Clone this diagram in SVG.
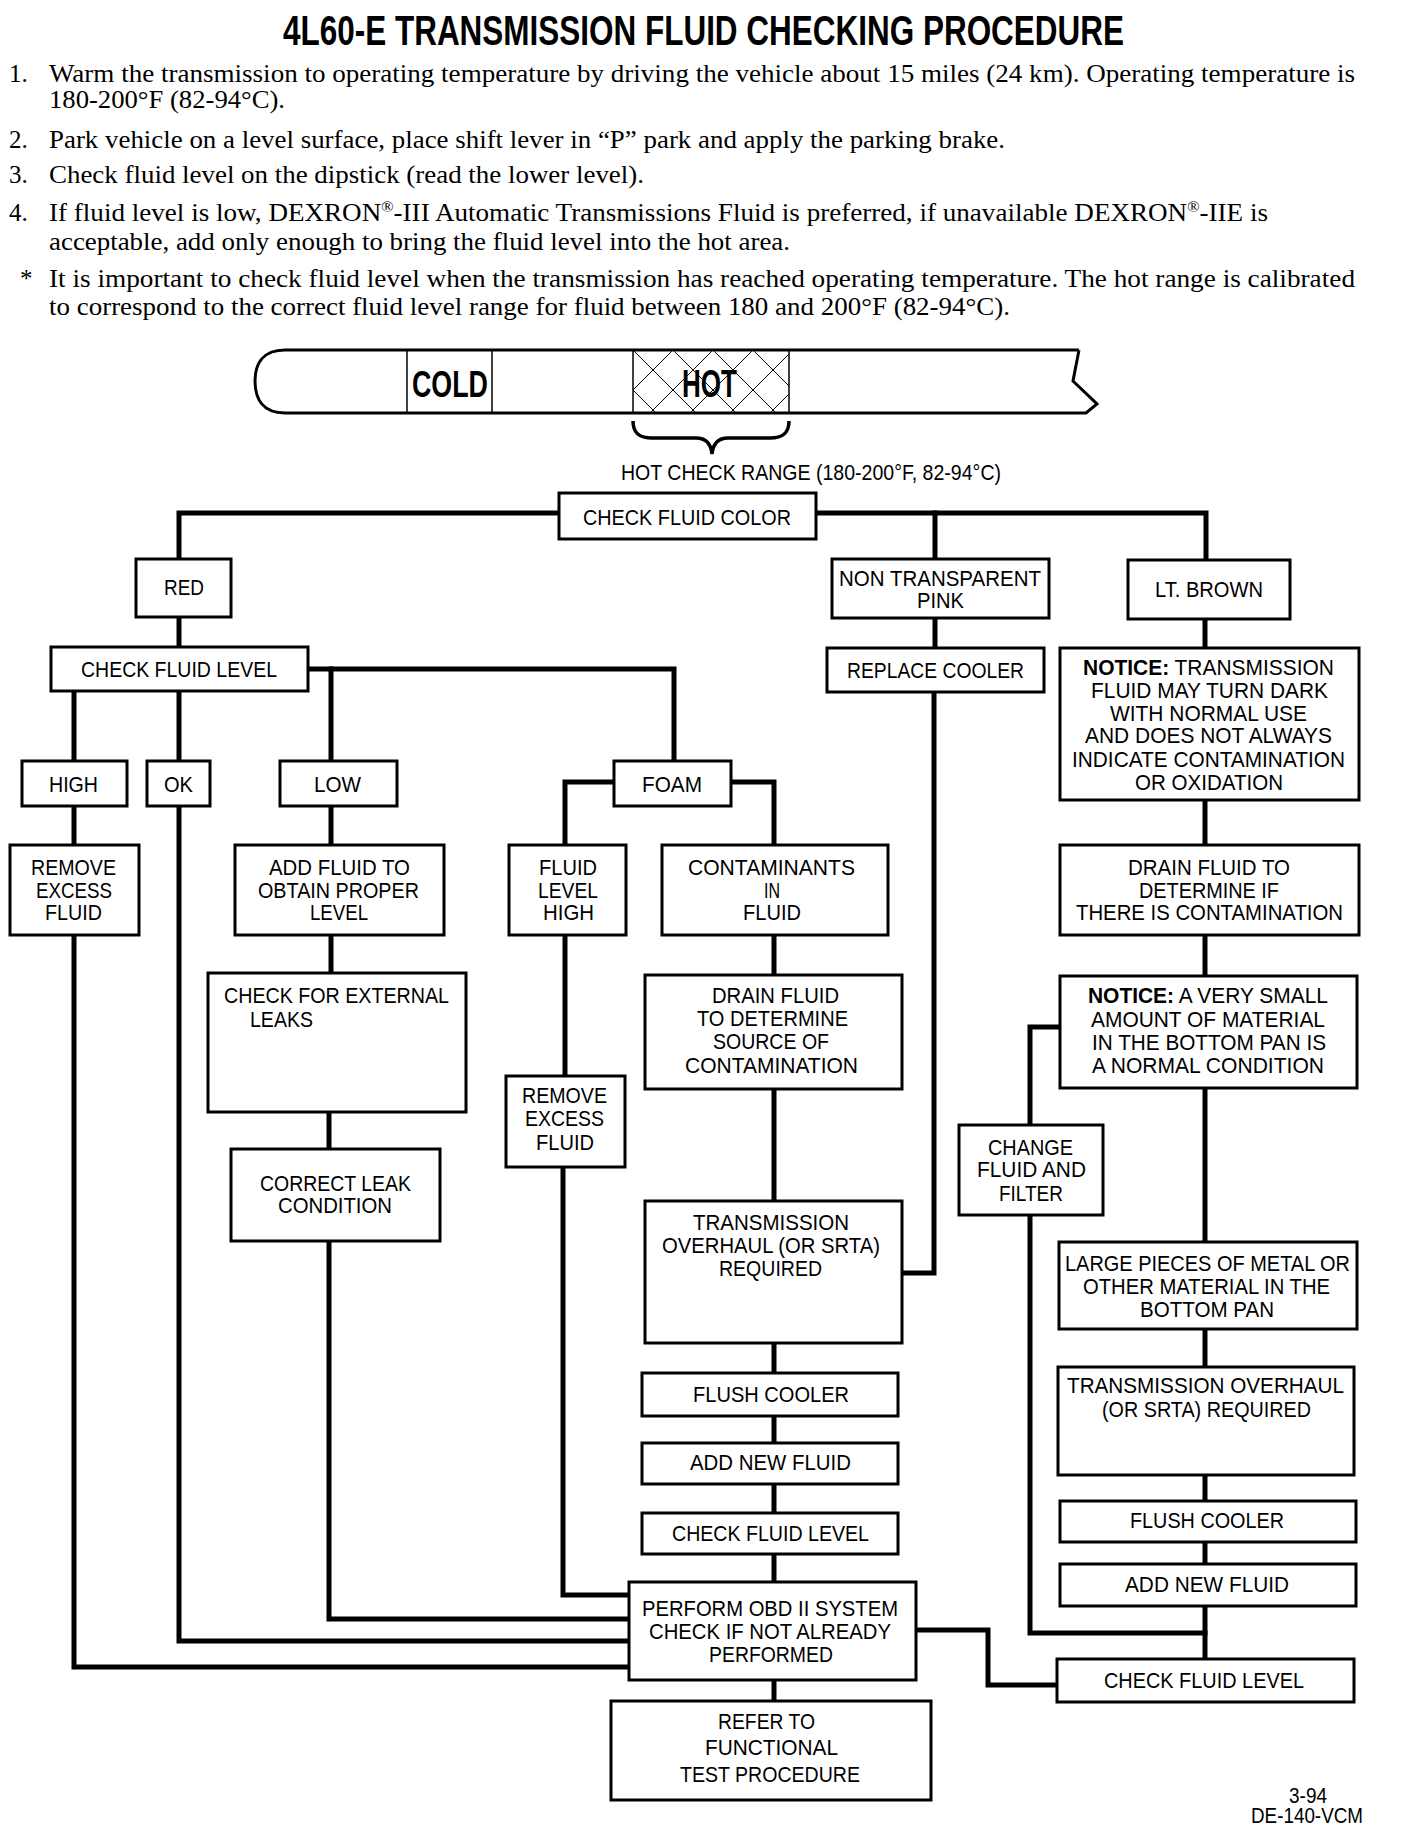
<svg xmlns="http://www.w3.org/2000/svg" width="1408" height="1830" viewBox="0 0 1408 1830">
<defs>
<style>
.box{fill:#fff;stroke:#000;stroke-width:3}
.c{fill:none;stroke:#000;stroke-width:5;stroke-linecap:square;stroke-linejoin:miter}
.t{font-family:"Liberation Sans",Arial,sans-serif;font-size:22px;fill:#000}
.b{font-family:"Liberation Serif","Times New Roman",serif;font-size:25px;fill:#000}
.h{font-family:"Liberation Sans",Arial,sans-serif;font-weight:bold;fill:#000}
.dip{fill:none;stroke:#000;stroke-width:3}
</style>
<pattern id="hatch" patternUnits="userSpaceOnUse" x="633" y="350" width="40" height="40">
<path d="M0 0 L40 40 M40 0 L0 40" stroke="#000" stroke-width="1" fill="none"/>
</pattern>
</defs>
<rect width="1408" height="1830" fill="#fff"/>

<g id="header">
<text class="h" x="283" y="45" font-size="42" textLength="841" lengthAdjust="spacingAndGlyphs">4L60-E TRANSMISSION FLUID CHECKING PROCEDURE</text>
<text class="b" x="9" y="82">1.</text>
<text class="b" x="49" y="82" textLength="1306" lengthAdjust="spacingAndGlyphs">Warm the transmission to operating temperature by driving the vehicle about 15 miles (24 km).  Operating temperature is</text>
<text class="b" x="49" y="108" textLength="236" lengthAdjust="spacingAndGlyphs">180-200°F (82-94°C).</text>
<text class="b" x="9" y="148">2.</text>
<text class="b" x="49" y="148" textLength="956" lengthAdjust="spacingAndGlyphs">Park vehicle on a level surface, place shift lever in “P” park and apply the parking brake.</text>
<text class="b" x="9" y="183">3.</text>
<text class="b" x="49" y="183" textLength="595" lengthAdjust="spacingAndGlyphs">Check fluid level on the dipstick (read the lower level).</text>
<text class="b" x="9" y="221">4.</text>
<text class="b" x="49" y="221" textLength="1219" lengthAdjust="spacingAndGlyphs">If fluid level is low, DEXRON<tspan dy="-9" font-size="15">®</tspan><tspan dy="9">-III Automatic Transmissions Fluid is preferred, if unavailable  DEXRON</tspan><tspan dy="-9" font-size="15">®</tspan><tspan dy="9">-IIE is</tspan></text>
<text class="b" x="49" y="250" textLength="741" lengthAdjust="spacingAndGlyphs">acceptable, add only enough to bring the fluid level into the hot area.</text>
<text class="b" x="20" y="287">*</text>
<text class="b" x="49" y="287" textLength="1306" lengthAdjust="spacingAndGlyphs">It is important to check fluid level when the transmission has reached operating temperature.  The hot range is calibrated</text>
<text class="b" x="49" y="315" textLength="961" lengthAdjust="spacingAndGlyphs">to correspond to the correct fluid level range for fluid between 180 and 200°F (82-94°C).</text>
</g>

<g id="dipstick">
<rect x="633" y="350" width="156" height="63" fill="url(#hatch)"/>
<path class="dip" d="M1079 350 L285 350 C262 350 255 365 255 381 C255 398 262 413 285 413 L1086 413 L1097 404 L1073 381 L1079 350"/>
<line x1="407" y1="350" x2="407" y2="413" stroke="#000" stroke-width="1.5"/>
<line x1="492" y1="350" x2="492" y2="413" stroke="#000" stroke-width="1.5"/>
<line x1="633" y1="350" x2="633" y2="413" stroke="#000" stroke-width="1.5"/>
<line x1="789" y1="350" x2="789" y2="413" stroke="#000" stroke-width="1.5"/>
<text class="h" x="412" y="397" font-size="36" textLength="76" lengthAdjust="spacingAndGlyphs">COLD</text>
<rect x="680" y="366" width="60" height="33" fill="#fff" opacity="0"/>
<text class="h" x="682" y="397" font-size="38" textLength="55" lengthAdjust="spacingAndGlyphs">HOT</text>
<path d="M633 421 C633 434 640 438 652 438 L696 438 C706 438 711 444 712 454 C713 444 718 438 728 438 L770 438 C782 438 789 434 789 421" fill="none" stroke="#000" stroke-width="3.5"/>
<text class="t" x="621" y="480" font-size="19" textLength="380" lengthAdjust="spacingAndGlyphs">HOT CHECK RANGE (180-200°F, 82-94°C)</text>
</g>

<g id="connectors">
<path class="c" d="M179 559 L179 513 L1206 513 L1206 560"/>
<path class="c" d="M935 513 L935 559"/>
<path class="c" d="M179 617 L179 647"/>
<path class="c" d="M74 691 L74 761"/>
<path class="c" d="M179 691 L179 761"/>
<path class="c" d="M308 669 L674 669 L674 761"/>
<path class="c" d="M331 669 L331 761"/>
<path class="c" d="M74 806 L74 845"/>
<path class="c" d="M331 806 L331 845"/>
<path class="c" d="M614 782 L565 782 L565 845"/>
<path class="c" d="M731 782 L774 782 L774 845"/>
<path class="c" d="M179 806 L179 1641 L629 1641"/>
<path class="c" d="M74 935 L74 1667 L629 1667"/>
<path class="c" d="M331 935 L331 973"/>
<path class="c" d="M329 1112 L329 1149"/>
<path class="c" d="M329 1241 L329 1619 L629 1619"/>
<path class="c" d="M565 935 L565 1076"/>
<path class="c" d="M563 1167 L563 1595 L629 1595"/>
<path class="c" d="M774 935 L774 1582"/>
<path class="c" d="M774 1680 L774 1701"/>
<path class="c" d="M935 618 L935 648"/>
<path class="c" d="M934 692 L934 1273 L902 1273"/>
<path class="c" d="M1205 619 L1205 1659"/>
<path class="c" d="M1060 1027 L1030 1027 L1030 1633 L1205 1633"/>
<path class="c" d="M916 1630 L988 1630 L988 1685 L1057 1685"/>
</g>

<g id="cfc"><rect class="box" x="559" y="493" width="257" height="46"/><text class="t" x="583" y="525" textLength="208" lengthAdjust="spacingAndGlyphs">CHECK FLUID COLOR</text></g>
<g id="red"><rect class="box" x="136" y="559" width="95" height="58"/><text class="t" x="164" y="595" textLength="40" lengthAdjust="spacingAndGlyphs">RED</text></g>
<g id="cfl1"><rect class="box" x="51" y="647" width="257" height="44"/><text class="t" x="81" y="677" textLength="196" lengthAdjust="spacingAndGlyphs">CHECK FLUID LEVEL</text></g>
<g id="high"><rect class="box" x="22" y="761" width="105" height="45"/><text class="t" x="49" y="792" textLength="49" lengthAdjust="spacingAndGlyphs">HIGH</text></g>
<g id="ok"><rect class="box" x="147" y="761" width="63" height="45"/><text class="t" x="164" y="792" textLength="29" lengthAdjust="spacingAndGlyphs">OK</text></g>
<g id="low"><rect class="box" x="280" y="761" width="117" height="45"/><text class="t" x="314" y="792" textLength="47" lengthAdjust="spacingAndGlyphs">LOW</text></g>
<g id="foam"><rect class="box" x="614" y="761" width="117" height="45"/><text class="t" x="642" y="792" textLength="60" lengthAdjust="spacingAndGlyphs">FOAM</text></g>
<g id="remove1"><rect class="box" x="10" y="845" width="129" height="90"/>
<text class="t" x="31" y="875" textLength="85" lengthAdjust="spacingAndGlyphs">REMOVE</text>
<text class="t" x="36" y="898" textLength="76" lengthAdjust="spacingAndGlyphs">EXCESS</text>
<text class="t" x="45" y="920" textLength="57" lengthAdjust="spacingAndGlyphs">FLUID</text></g>
<g id="addfluid"><rect class="box" x="235" y="845" width="209" height="90"/>
<text class="t" x="269" y="875" textLength="141" lengthAdjust="spacingAndGlyphs">ADD FLUID TO</text>
<text class="t" x="258" y="898" textLength="161" lengthAdjust="spacingAndGlyphs">OBTAIN PROPER</text>
<text class="t" x="310" y="920" textLength="58" lengthAdjust="spacingAndGlyphs">LEVEL</text></g>
<g id="flh"><rect class="box" x="509" y="845" width="117" height="90"/>
<text class="t" x="539" y="875" textLength="58" lengthAdjust="spacingAndGlyphs">FLUID</text>
<text class="t" x="538" y="898" textLength="60" lengthAdjust="spacingAndGlyphs">LEVEL</text>
<text class="t" x="543" y="920" textLength="51" lengthAdjust="spacingAndGlyphs">HIGH</text></g>
<g id="contam"><rect class="box" x="662" y="845" width="226" height="90"/>
<text class="t" x="688" y="875" textLength="167" lengthAdjust="spacingAndGlyphs">CONTAMINANTS</text>
<text class="t" x="764" y="898" textLength="16" lengthAdjust="spacingAndGlyphs">IN</text>
<text class="t" x="743" y="920" textLength="58" lengthAdjust="spacingAndGlyphs">FLUID</text></g>
<g id="ntp"><rect class="box" x="832" y="559" width="217" height="59"/>
<text class="t" x="839" y="586" textLength="202" lengthAdjust="spacingAndGlyphs">NON TRANSPARENT</text>
<text class="t" x="917" y="608" textLength="47" lengthAdjust="spacingAndGlyphs">PINK</text></g>
<g id="ltbrown"><rect class="box" x="1128" y="560" width="162" height="59"/><text class="t" x="1155" y="597" textLength="108" lengthAdjust="spacingAndGlyphs">LT. BROWN</text></g>
<g id="replace"><rect class="box" x="827" y="648" width="217" height="44"/><text class="t" x="847" y="678" textLength="177" lengthAdjust="spacingAndGlyphs">REPLACE COOLER</text></g>
<g id="notice1"><rect class="box" x="1060" y="648" width="299" height="152"/>
<text class="t" x="1083" y="675" textLength="251" lengthAdjust="spacingAndGlyphs"><tspan font-weight="bold">NOTICE:</tspan>  TRANSMISSION</text>
<text class="t" x="1091" y="698" textLength="237" lengthAdjust="spacingAndGlyphs">FLUID MAY TURN DARK</text>
<text class="t" x="1110" y="721" textLength="197" lengthAdjust="spacingAndGlyphs">WITH NORMAL USE</text>
<text class="t" x="1085" y="743" textLength="247" lengthAdjust="spacingAndGlyphs">AND DOES NOT ALWAYS</text>
<text class="t" x="1072" y="767" textLength="273" lengthAdjust="spacingAndGlyphs">INDICATE CONTAMINATION</text>
<text class="t" x="1135" y="790" textLength="148" lengthAdjust="spacingAndGlyphs">OR OXIDATION</text></g>
<g id="drainif"><rect class="box" x="1060" y="845" width="299" height="90"/>
<text class="t" x="1128" y="875" textLength="162" lengthAdjust="spacingAndGlyphs">DRAIN FLUID TO</text>
<text class="t" x="1139" y="898" textLength="140" lengthAdjust="spacingAndGlyphs">DETERMINE IF</text>
<text class="t" x="1076" y="920" textLength="267" lengthAdjust="spacingAndGlyphs">THERE IS CONTAMINATION</text></g>
<g id="checkext"><rect class="box" x="208" y="973" width="258" height="139"/>
<text class="t" x="224" y="1003" textLength="225" lengthAdjust="spacingAndGlyphs">CHECK FOR EXTERNAL</text>
<text class="t" x="250" y="1027" textLength="63" lengthAdjust="spacingAndGlyphs">LEAKS</text></g>
<g id="correct"><rect class="box" x="231" y="1149" width="209" height="92"/>
<text class="t" x="260" y="1191" textLength="151" lengthAdjust="spacingAndGlyphs">CORRECT LEAK</text>
<text class="t" x="278" y="1213" textLength="114" lengthAdjust="spacingAndGlyphs">CONDITION</text></g>
<g id="remove2"><rect class="box" x="506" y="1076" width="119" height="91"/>
<text class="t" x="522" y="1103" textLength="85" lengthAdjust="spacingAndGlyphs">REMOVE</text>
<text class="t" x="525" y="1126" textLength="79" lengthAdjust="spacingAndGlyphs">EXCESS</text>
<text class="t" x="536" y="1150" textLength="58" lengthAdjust="spacingAndGlyphs">FLUID</text></g>
<g id="drainsrc"><rect class="box" x="645" y="975" width="257" height="114"/>
<text class="t" x="712" y="1003" textLength="127" lengthAdjust="spacingAndGlyphs">DRAIN FLUID</text>
<text class="t" x="697" y="1026" textLength="151" lengthAdjust="spacingAndGlyphs">TO DETERMINE</text>
<text class="t" x="713" y="1049" textLength="116" lengthAdjust="spacingAndGlyphs">SOURCE OF</text>
<text class="t" x="685" y="1073" textLength="173" lengthAdjust="spacingAndGlyphs">CONTAMINATION</text></g>
<g id="overhaul1"><rect class="box" x="645" y="1201" width="257" height="142"/>
<text class="t" x="693" y="1230" textLength="156" lengthAdjust="spacingAndGlyphs">TRANSMISSION</text>
<text class="t" x="662" y="1253" textLength="218" lengthAdjust="spacingAndGlyphs">OVERHAUL (OR SRTA)</text>
<text class="t" x="719" y="1276" textLength="103" lengthAdjust="spacingAndGlyphs">REQUIRED</text></g>
<g id="notice2"><rect class="box" x="1060" y="976" width="297" height="112"/>
<text class="t" x="1088" y="1003" textLength="240" lengthAdjust="spacingAndGlyphs"><tspan font-weight="bold">NOTICE:</tspan>  A VERY SMALL</text>
<text class="t" x="1091" y="1027" textLength="234" lengthAdjust="spacingAndGlyphs">AMOUNT OF MATERIAL</text>
<text class="t" x="1092" y="1050" textLength="234" lengthAdjust="spacingAndGlyphs">IN THE BOTTOM PAN IS</text>
<text class="t" x="1092" y="1073" textLength="232" lengthAdjust="spacingAndGlyphs">A NORMAL CONDITION</text></g>
<g id="change"><rect class="box" x="959" y="1125" width="144" height="90"/>
<text class="t" x="988" y="1155" textLength="85" lengthAdjust="spacingAndGlyphs">CHANGE</text>
<text class="t" x="977" y="1177" textLength="109" lengthAdjust="spacingAndGlyphs">FLUID AND</text>
<text class="t" x="999" y="1201" textLength="64" lengthAdjust="spacingAndGlyphs">FILTER</text></g>
<g id="large"><rect class="box" x="1059" y="1242" width="298" height="87"/>
<text class="t" x="1065" y="1271" textLength="285" lengthAdjust="spacingAndGlyphs">LARGE PIECES OF METAL OR</text>
<text class="t" x="1083" y="1294" textLength="247" lengthAdjust="spacingAndGlyphs">OTHER MATERIAL IN THE</text>
<text class="t" x="1140" y="1317" textLength="134" lengthAdjust="spacingAndGlyphs">BOTTOM PAN</text></g>
<g id="overhaul2"><rect class="box" x="1058" y="1367" width="296" height="108"/>
<text class="t" x="1067" y="1393" textLength="277" lengthAdjust="spacingAndGlyphs">TRANSMISSION OVERHAUL</text>
<text class="t" x="1102" y="1417" textLength="209" lengthAdjust="spacingAndGlyphs">(OR SRTA) REQUIRED</text></g>
<g id="flush1"><rect class="box" x="642" y="1373" width="256" height="43"/><text class="t" x="693" y="1402" textLength="156" lengthAdjust="spacingAndGlyphs">FLUSH COOLER</text></g>
<g id="add1"><rect class="box" x="642" y="1443" width="256" height="41"/><text class="t" x="690" y="1470" textLength="161" lengthAdjust="spacingAndGlyphs">ADD NEW FLUID</text></g>
<g id="cfl3"><rect class="box" x="642" y="1513" width="256" height="41"/><text class="t" x="672" y="1541" textLength="197" lengthAdjust="spacingAndGlyphs">CHECK FLUID LEVEL</text></g>
<g id="obd"><rect class="box" x="629" y="1582" width="287" height="98"/>
<text class="t" x="642" y="1616" textLength="256" lengthAdjust="spacingAndGlyphs">PERFORM OBD II SYSTEM</text>
<text class="t" x="649" y="1639" textLength="242" lengthAdjust="spacingAndGlyphs">CHECK IF NOT ALREADY</text>
<text class="t" x="709" y="1662" textLength="124" lengthAdjust="spacingAndGlyphs">PERFORMED</text></g>
<g id="refer"><rect class="box" x="611" y="1701" width="320" height="99"/>
<text class="t" x="718" y="1729" textLength="97" lengthAdjust="spacingAndGlyphs">REFER TO</text>
<text class="t" x="705" y="1755" textLength="133" lengthAdjust="spacingAndGlyphs">FUNCTIONAL</text>
<text class="t" x="680" y="1782" textLength="180" lengthAdjust="spacingAndGlyphs">TEST PROCEDURE</text></g>
<g id="flush2"><rect class="box" x="1060" y="1501" width="296" height="41"/><text class="t" x="1130" y="1528" textLength="154" lengthAdjust="spacingAndGlyphs">FLUSH COOLER</text></g>
<g id="add2"><rect class="box" x="1060" y="1564" width="296" height="42"/><text class="t" x="1125" y="1592" textLength="164" lengthAdjust="spacingAndGlyphs">ADD NEW FLUID</text></g>
<g id="cfl2"><rect class="box" x="1057" y="1659" width="297" height="43"/><text class="t" x="1104" y="1688" textLength="200" lengthAdjust="spacingAndGlyphs">CHECK FLUID LEVEL</text></g>

<g id="footer">
<text class="t" x="1289" y="1803" font-size="18" textLength="38" lengthAdjust="spacingAndGlyphs">3-94</text>
<text class="t" x="1251" y="1823" font-size="18" textLength="112" lengthAdjust="spacingAndGlyphs">DE-140-VCM</text>
</g>
</svg>
